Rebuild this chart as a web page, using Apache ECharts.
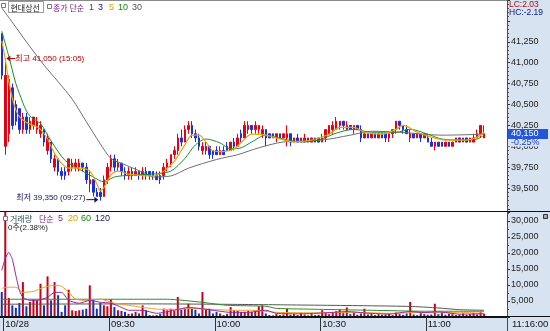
<!DOCTYPE html>
<html><head><meta charset="utf-8">
<script src="https://cdn.jsdelivr.net/npm/echarts@6/dist/echarts.min.js"></script>
<style>
html,body{margin:0;padding:0;background:#fff;}
#c{width:550px;height:331px;background:linear-gradient(to right,#ffffff 507px,#d7e3f1 507px) 0 0/100% 317px no-repeat,#d7e3f1;}
</style></head><body><div id="c"></div>
<script>
// ---- categories: index 0 = last bar of previous day, then 1-minute bars from 09:00
const categories = ['15:00'];
for (let m = 0; m < 143; m++) {
  const h = 9 + Math.floor(m / 60), mm = m % 60;
  categories.push(String(h).padStart(2, '0') + ':' + String(mm).padStart(2, '0'));
}
const tickIndex = [1, 31, 61, 91, 121];
const tickLabels = ['10/28', '09:30', '10:00', '10:30', '11:00'];

// ---- price candles (k = 0..137)
const opens = [41350,40000,40150,40700,40500,40450,40200,40350,40200,40250,40200,40150,40200,39950,40050,39750,39850,39700,39700,39700,
39750,39750,39750,39800,39750,39550,39600,39450,39450,39400,39600,39750,39850,39750,39800,39700,39650,39700,39650,39700,
39650,39700,39700,39700,39650,39650,39650,39750,39800,39900,39950,40100,40050,40200,40250,40150,40100,39950,39950,40000,
39950,39950,39900,39950,40000,39950,40050,40000,40150,40100,40200,40250,40200,40200,40150,40200,40150,40150,40100,40150,
40100,40100,40150,40050,40100,40050,40050,40100,40050,40100,40100,40050,40100,40150,40200,40200,40250,40300,40200,40250,
40200,40250,40200,40100,40150,40100,40150,40100,40150,40150,40100,40150,40200,40300,40250,40200,40100,40150,40100,40150,
40100,40100,40050,40000,40050,40050,40000,40050,40000,40050,40100,40050,40100,40050,40050,40100,40150,40100];
const closes = [40850,40850,40800,40250,40300,40200,40350,40200,40300,40350,40300,40250,40050,40100,39850,39850,39700,39650,39650,39850,
39800,39800,39800,39750,39600,39600,39450,39400,39400,39600,39750,39850,39750,39800,39700,39650,39700,39650,39700,39650,
39700,39650,39650,39650,39600,39600,39750,39800,39900,39950,40100,40050,40200,40250,40150,40100,40000,40000,40000,39900,
39900,39900,39950,39900,39950,40050,40000,40100,40100,40250,40250,40200,40250,40250,40200,40100,40100,40100,40150,40100,
40150,40150,40050,40100,40050,40100,40100,40050,40100,40050,40050,40100,40200,40250,40250,40300,40300,40250,40250,40200,
40250,40200,40100,40150,40100,40150,40100,40150,40100,40100,40150,40200,40300,40250,40200,40150,40150,40100,40150,40100,
40150,40050,40000,40050,40000,40000,40050,40000,40050,40100,40050,40100,40050,40100,40100,40150,40250,40150];
const lows = [40800,39900,40050,40200,40250,40150,40150,40150,40150,40200,40150,40100,40000,39900,39800,39700,39650,39600,39600,39650,
39700,39700,39700,39700,39550,39450,39400,39400,39350,39400,39550,39700,39700,39700,39650,39600,39600,39600,39650,39600,
39600,39600,39600,39600,39600,39550,39600,39700,39750,39850,39900,40000,40050,40150,40100,40050,39950,39900,39900,39850,
39850,39900,39900,39900,39950,39950,39950,40000,40050,40100,40150,40150,40150,40150,40100,40000,40100,40100,40050,40100,
40100,40000,40000,40050,40050,40050,40050,40050,40050,40050,40050,40050,40050,40150,40150,40200,40200,40200,40200,40200,
40150,40200,40050,40100,40100,40100,40100,40100,40100,40050,40050,40100,40150,40200,40150,40150,40050,40100,40100,40050,
40100,40050,40000,39950,40000,40000,40000,40000,40000,40050,40050,40050,40050,40050,40050,40100,40100,40100];
const highs = [41350,41050,40850,40750,40550,40450,40400,40400,40350,40350,40350,40300,40200,40150,40050,39900,39850,39750,39750,39850,
39850,39850,39850,39800,39800,39700,39600,39500,39500,39650,39800,39900,39900,39850,39800,39750,39750,39750,39750,39700,
39750,39750,39700,39700,39700,39700,39800,39850,39900,40000,40150,40200,40250,40300,40300,40200,40150,40050,40050,40000,
39950,40000,40000,40000,40050,40050,40100,40150,40200,40300,40300,40250,40300,40250,40250,40200,40150,40150,40150,40150,
40150,40250,40150,40100,40150,40100,40150,40100,40100,40100,40100,40150,40200,40250,40300,40350,40300,40300,40300,40250,
40250,40250,40250,40150,40150,40150,40150,40150,40150,40150,40150,40200,40300,40300,40250,40250,40200,40150,40150,40150,
40150,40150,40100,40050,40050,40050,40050,40050,40050,40100,40100,40100,40100,40100,40150,40200,40250,40250];

// ---- price moving averages: [categoryIndex, price]
const ma5 = [[0,41261],[1,41040],[2,40773],[3,40575],[4,40436],[5,40354],[7,40284],[9,40250],[11,40203],[13,40087],[15,39912],[17,39796],
[19,39738],[22,39738],[25,39703],[27,39552],[28,39470],[29,39505],[31,39656],[33,39703],[36,39668],[43,39645],[46,39703],[49,39819],
[52,40017],[54,40133],[56,40133],[58,40052],[60,39947],[63,39936],[66,39970],[69,40087],[71,40145],[75,40133],[79,40087],[83,40052],
[88,40075],[93,40145],[96,40226],[100,40226],[103,40168],[108,40145],[112,40203],[114,40250],[118,40168],[122,40110],[126,40075],
[132,40075],[135,40110],[137,40168]];
const ma10 = [[0,41378],[2,41075],[4,40750],[5,40633],[7,40424],[9,40319],[11,40273],[14,40064],[18,39831],[22,39726],[26,39633],
[29,39575],[32,39633],[37,39656],[43,39668],[48,39703],[52,39854],[55,40017],[58,40087],[62,40040],[65,39970],[68,39982],[71,40052],
[75,40133],[80,40087],[85,40052],[90,40075],[95,40157],[100,40203],[105,40168],[112,40168],[116,40203],[121,40145],[125,40087],
[131,40075],[135,40087],[137,40133]];
const ma30 = [[0,41657],[4,41424],[8,41192],[12,40971],[16,40773],[20,40564],[24,40296],[28,40029],[31,39854],[34,39796],[40,39691],
[43,39633],[48,39645],[53,39738],[61,39842],[67,39900],[73,39982],[80,40052],[91,40075],[99,40133],[105,40180],[113,40168],
[125,40133],[137,40145]];

// ---- volume (k = 0..137)
const volumes = [7800,82000,5950,3650,2900,4400,10900,3350,4700,5450,5200,10400,3650,12700,5200,10900,6800,1600,3650,8550,
2100,1900,2100,2300,2600,9900,5450,2600,4400,3650,3350,5450,3100,2100,1900,1600,1000,1100,1600,1100,
3650,2100,600,500,600,1000,2600,2100,2600,1900,6250,2300,2600,4150,2600,2300,1100,7800,2300,2600,
1100,1600,1100,600,1000,3100,2100,1900,1600,1600,1900,1600,2100,3350,3650,1100,600,500,1000,600,
800,2600,700,900,600,1200,800,500,900,600,700,2100,1200,900,1500,1800,2300,1200,3000,900,
1300,700,1100,2600,800,1000,600,900,700,800,1000,600,1400,900,700,1100,4700,800,600,1200,
900,700,800,4150,900,1300,700,1000,900,600,800,1100,700,900,1200,800,1500,1000];
const vma5 = [[0,14600],[1,18300],[2,20200],[3,18000],[4,13000],[5,8350],[6,6150],[8,5200],[10,5200],[13,6150],[15,7700],[17,7700],
[19,5200],[22,4300],[25,5200],[28,4600],[31,4300],[34,3000],[36,2100],[40,2100],[44,1150],[49,2100],[53,3000],[56,2700],[60,2100],
[65,1450],[70,1450],[75,2100],[78,1150],[85,1000],[92,1300],[98,1700],[104,1200],[110,900],[116,1700],[120,1400],[124,1600],
[130,900],[137,1000]];
const vma20 = [[0,9000],[2,9300],[4,9300],[6,7700],[9,8000],[12,9300],[15,9900],[17,9600],[19,7700],[21,5550],[24,5200],[28,5550],
[32,4300],[36,3650],[40,3000],[45,2400],[50,2400],[54,2700],[59,2400],[66,2100],[71,2100],[78,1450],[90,1300],[100,1450],
[110,1150],[120,1450],[130,1450],[137,1150]];
const vma60 = [[0,5550],[47,5550],[57,4600],[59,4300],[64,3650],[75,3350],[78,2700],[90,2400],[105,2100],[120,1800],[137,1800]];
const vma120 = [[0,4000],[40,4100],[60,4000],[80,3800],[105,3500],[116,3300],[123,2900],[130,2300],[137,2100]];

const priceTicks = [39500, 39750, 40000, 40250, 40500, 40750, 41000, 41250];

// ---- styles
const UP = '#e60012', DOWN = '#1a2fe0';
const VUP = '#c4001a', VDOWN = '#1a2fb0';
const FF = '"Liberation Sans Narrow","Liberation Sans","Noto Sans CJK KR",sans-serif';
const KF = '"Noto Sans CJK KR","Liberation Sans",sans-serif';
const fmt = v => String(v).replace(/\B(?=(\d{3})+(?!\d))/g, ',');

const chart = echarts.init(document.getElementById('c'), null, {renderer: 'canvas'});
const tickFn = (i) => tickIndex.indexOf(i) >= 0;

const option = {
  animation: false,
  backgroundColor: 'transparent',
  grid: [
    {left: 0, width: 507, top: -6, height: 215, show: false},
    {left: 0, width: 507, top: 212, height: 105, show: false}
  ],
  xAxis: [
    {type: 'category', gridIndex: 0, data: categories, show: false, boundaryGap: true},
    {type: 'category', gridIndex: 1, data: categories, boundaryGap: true,
      axisLine: {show: true, lineStyle: {color: '#111', width: 1}},
      axisTick: {show: true, interval: tickFn, length: 14, lineStyle: {color: '#333'}},
      axisLabel: {show: true, interval: tickFn, align: 'left', margin: 3, fontSize: 9.5, color: '#111', fontFamily: FF,
        formatter: (v, i) => tickLabels[tickIndex.indexOf(i)] || ''},
      splitLine: {show: false}}
  ],
  yAxis: [
    {type: 'value', gridIndex: 0, position: 'right', min: 39250, max: 41750, interval: 250, scale: true,
      axisLine: {show: true, lineStyle: {color: '#555'}},
      axisTick: {show: true, length: 3, lineStyle: {color: '#333'}},
      minorTick: {show: true, splitNumber: 5, length: 2, lineStyle: {color: '#555'}},
      axisLabel: {margin: 4, fontSize: 9, color: '#222', fontFamily: FF, showMinLabel: false, showMaxLabel: false,
        formatter: v => priceTicks.indexOf(v) >= 0 ? fmt(v) : ''},
      splitLine: {show: false}},
    {type: 'value', gridIndex: 1, position: 'right', min: 0, max: 32812, interval: 5000,
      axisLine: {show: true, lineStyle: {color: '#555'}},
      axisTick: {show: true, length: 3, lineStyle: {color: '#333'}},
      minorTick: {show: true, splitNumber: 2, length: 2, lineStyle: {color: '#555'}},
      axisLabel: {margin: 4, fontSize: 9, color: '#222', fontFamily: FF, showMinLabel: false, showMaxLabel: false,
        formatter: v => (v > 0 && v <= 30000) ? fmt(v) : ''},
      splitLine: {show: false}}
  ],
  series: [
    {type: 'candlestick', xAxisIndex: 0, yAxisIndex: 0, barWidth: 2,
      data: opens.map((o, k) => [o, closes[k], lows[k], highs[k]]),
      itemStyle: {color: UP, color0: DOWN, borderColor: UP, borderColor0: DOWN, borderWidth: 1}, silent: true},
    {type: 'line', xAxisIndex: 0, yAxisIndex: 0, data: ma30, showSymbol: false, smooth: 0.3, silent: true,
      lineStyle: {color: '#6e6e6e', width: 1}},
    {type: 'line', xAxisIndex: 0, yAxisIndex: 0, data: ma10, showSymbol: false, smooth: 0.3, silent: true,
      lineStyle: {color: '#1d8a3a', width: 1}},
    {type: 'line', xAxisIndex: 0, yAxisIndex: 0, data: ma5, showSymbol: false, smooth: 0.3, silent: true,
      lineStyle: {color: '#f0a400', width: 1.2}},
    {type: 'bar', xAxisIndex: 1, yAxisIndex: 1, barWidth: 2, silent: true,
      data: volumes.map((v, k) => ({value: v, itemStyle: {color: closes[k] >= opens[k] ? VUP : VDOWN}}))},
    {type: 'line', xAxisIndex: 1, yAxisIndex: 1, data: vma120, showSymbol: false, smooth: 0.2, silent: true,
      lineStyle: {color: '#555555', width: 1}},
    {type: 'line', xAxisIndex: 1, yAxisIndex: 1, data: vma60, showSymbol: false, smooth: 0.2, silent: true,
      lineStyle: {color: '#2e8b2e', width: 1}},
    {type: 'line', xAxisIndex: 1, yAxisIndex: 1, data: vma20, showSymbol: false, smooth: 0.2, silent: true,
      lineStyle: {color: '#f0a020', width: 1}},
    {type: 'line', xAxisIndex: 1, yAxisIndex: 1, data: vma5, showSymbol: false, smooth: 0.2, silent: true,
      lineStyle: {color: '#9b1fa0', width: 1}}
  ]
};
chart.setOption(option);

// ---- annotations positioned from data
let hiK = 1, loK = 1;
for (let k = 1; k < highs.length; k++) {
  if (highs[k] > highs[hiK]) hiK = k;
  if (lows[k] < lows[loK]) loK = k;
}
const pHi = chart.convertToPixel({xAxisIndex: 0, yAxisIndex: 0}, [hiK, highs[hiK]]);
const pLo = chart.convertToPixel({xAxisIndex: 0, yAxisIndex: 0}, [loK, lows[loK]]);
const pCur = chart.convertToPixel({xAxisIndex: 0, yAxisIndex: 0}, [closes.length - 1, closes[closes.length - 1]]);
const PANEL = '#d7e3f1';

function txt(text, x, y, fill, font, align) {
  return {type: 'text', z: 100, style: {text, x, y, fill, font, align: align || 'left', verticalAlign: 'middle'}};
}
function box(x, y, w, h, fill, stroke) {
  return {type: 'rect', z: 99, shape: {x, y, width: w, height: h}, style: {fill: fill || 'none', stroke: stroke || null, lineWidth: 1}};
}
function line(x1, y1, x2, y2, color) {
  return {type: 'line', z: 98, shape: {x1, y1, x2, y2}, style: {stroke: color, lineWidth: 1}};
}
const hx = pHi[0], hy = pHi[1];
const lx = pLo[0], ly = pLo[1];
const cy = Math.round(pCur[1]);

const graphics = [
  // frame lines
  line(0, 0.5, 507, 0.5, '#8a8a8a'),
  line(507.5, 0, 507.5, 331, '#4a4a4a'),
  line(0, 211.5, 550, 211.5, '#111'),
  line(0, 316.5, 550, 316.5, '#111'),
  // top legend
  box(1.5, 3.5, 4, 4, '#fff', '#777'),
  box(8.5, 1.5, 35, 11, 'none', '#9a9a9a'),
  txt('현대상선', 10.5, 7.5, '#1a1a1a', '8px ' + KF),
  box(47.5, 4.5, 4, 4, '#fff', '#777'),
  txt('종가 단순', 53, 7.5, '#7a1a8a', '8px ' + KF),
  txt('1', 89, 7.5, '#7a1a8a', '9px ' + FF),
  txt('3', 98, 7.5, '#10107a', '9px ' + FF),
  txt('5', 109, 7.5, '#e0a000', '9px ' + FF),
  txt('10', 118, 7.5, '#108a10', '9px ' + FF),
  txt('30', 132, 7.5, '#555555', '9px ' + FF),
  // high annotation
  line(hx + 3, hy, hx + 10, hy, '#c00000'),
  {type: 'polygon', z: 100, shape: {points: [[hx + 1, hy], [hx + 5, hy - 3], [hx + 5, hy + 3]]}, style: {fill: '#c00000'}},
  txt('최고 41,050 (15:05)', hx + 10, hy, '#a80000', '8px ' + FF),
  // low annotation
  line(lx - 14, ly - 1, lx - 4, ly - 1, '#14145a'),
  {type: 'polygon', z: 100, shape: {points: [[lx - 2, ly - 1], [lx - 6, ly - 4], [lx - 6, ly + 2]]}, style: {fill: '#14145a'}},
  txt('최저 39,350 (09:27)', lx - 15, ly - 3, '#14145a', '8px ' + FF, 'right'),
  // right panel texts
  txt('LC:2.03', 509, 5, '#a01010', '8.5px ' + FF),
  txt('HC:-2.19', 509, 12.5, '#102080', '8.5px ' + FF),
  box(508, cy - 5, 40, 10, '#2656d8', null),
  txt('40,150', 511, cy, '#ffffff', '9px ' + FF),
  box(508, cy + 5, 40, 7.5, PANEL, null),
  txt('-0.25%', 511, cy + 8.5, '#2040c8', '9px ' + FF),
  // volume legend
  box(3.5, 216.5, 4, 4, '#fff', '#777'),
  txt('거래량', 10, 219, '#2f4f5a', '8px ' + KF),
  txt('단순', 39, 219, '#7a1a8a', '8px ' + KF),
  txt('5', 58, 219, '#7a1a8a', '9px ' + FF),
  txt('20', 68, 219, '#d8a000', '9px ' + FF),
  txt('60', 81, 219, '#108a10', '9px ' + FF),
  txt('120', 95, 219, '#20205a', '9px ' + FF),
  txt('0주(2.38%)', 8, 228, '#222', '8px ' + FF),
  box(543.5, 214.5, 4, 4, '#aab', '#333'),
  // bottom right time
  txt('11:16:00', 512, 324, '#111', '9.5px ' + FF)
];
chart.setOption({graphic: {elements: graphics}});
</script>
</body></html>
